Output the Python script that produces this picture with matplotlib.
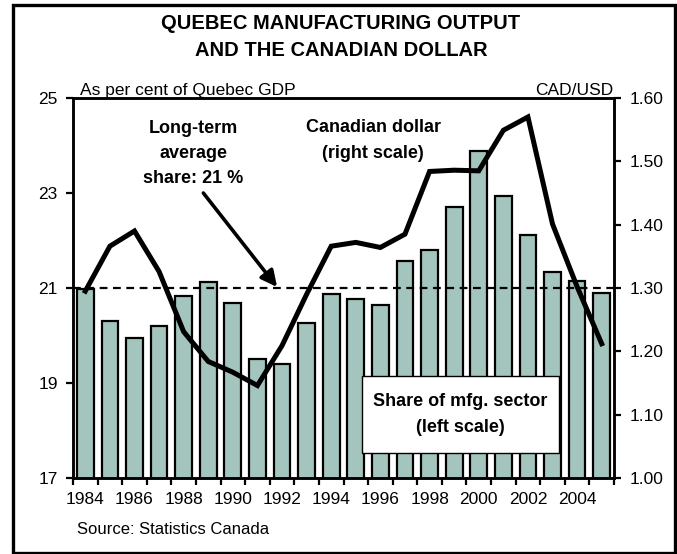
import matplotlib
matplotlib.use("Agg")
import matplotlib.pyplot as plt
from matplotlib.patches import Rectangle
from matplotlib.ticker import FixedLocator
import numpy as np

plt.rcParams['font.family'] = ['Liberation Sans', 'DejaVu Sans']

years = list(range(1984, 2006))
mfg_share = [20.97, 20.31, 19.94, 20.19, 20.84, 21.12, 20.69, 19.50, 19.39, 20.26, 20.87,
             20.76, 20.64, 21.57, 21.80, 22.70, 23.88, 22.94, 22.12, 21.34, 21.15, 20.90]
cad_usd = [1.295, 1.366, 1.390, 1.326, 1.231, 1.184, 1.167, 1.146, 1.209, 1.290, 1.366,
           1.372, 1.364, 1.385, 1.484, 1.486, 1.485, 1.549, 1.570, 1.401, 1.302, 1.212]
long_term_avg = 21.0
left_ticks = [17, 19, 21, 23, 25]
right_ticks = [1.00, 1.10, 1.20, 1.30, 1.40, 1.50, 1.60]
xtick_years = list(range(1984, 2005, 2))

W, H = 677, 554
fig = plt.figure(figsize=(W / 100, H / 100), dpi=100)

L, R, T, B = 73, 614, 98, 478
ax = fig.add_axes([L / W, 1 - B / H, (R - L) / W, (B - T) / H])
ax2 = ax.twinx()

x = np.arange(len(years))
ax.bar(x, mfg_share, width=0.68, color='#A3C5BD', edgecolor='black', linewidth=1.6, zorder=2)
ax.axhline(long_term_avg, color='black', linestyle=(0, (3.5, 2.5)), linewidth=1.6, zorder=3)

ax2.plot(x, cad_usd, color='black', linewidth=3.6, solid_joinstyle='miter', zorder=4)

ax.set_xlim(-0.5, len(years) - 0.5)
ax.set_ylim(17, 25)
ax2.set_ylim(1.00, 1.60)

ax.set_yticks(left_ticks)
ax.set_yticklabels([str(v) for v in left_ticks])
ax2.set_yticks(right_ticks)
ax2.set_yticklabels([f"{v:.2f}" for v in right_ticks])

ax.set_xticks([years.index(y) for y in xtick_years])
ax.set_xticklabels([str(y) for y in xtick_years])
ax.xaxis.set_minor_locator(FixedLocator(np.arange(-0.5, len(years), 1.0)))

ax.tick_params(axis='x', which='major', length=0, pad=10, labelsize=12.5)
ax.tick_params(axis='x', which='minor', length=5, width=1.6, direction='out')
ax.tick_params(axis='y', which='major', length=5, width=1.6, pad=6, labelsize=12.5)
ax2.tick_params(axis='y', which='major', length=5, width=1.6, pad=6, labelsize=12.5)

for a in (ax, ax2):
    for s in a.spines.values():
        s.set_linewidth(1.8)

# Axis unit labels
ax.text(0.013, 1.008, "As per cent of Quebec GDP", transform=ax.transAxes,
        ha='left', va='baseline', fontsize=12.5)
ax.text(0.998, 1.008, "CAD/USD", transform=ax.transAxes,
        ha='right', va='baseline', fontsize=12.5)

# Annotations
ax.text(0.222, 0.853, "Long-term\naverage\nshare: 21 %", transform=ax.transAxes,
        ha='center', va='center', fontsize=13, fontweight='bold', linespacing=1.62, zorder=6)
ax.text(0.555, 0.887, "Canadian dollar\n(right scale)", transform=ax.transAxes,
        ha='center', va='center', fontsize=13, fontweight='bold', linespacing=1.7, zorder=6)

ax.annotate("", xy=(7.8, 21.02), xytext=(4.8, 23.0), xycoords='data',
            arrowprops=dict(arrowstyle='-|>', color='black', lw=2.6, mutation_scale=24,
                            shrinkA=0, shrinkB=0), zorder=7)

box = Rectangle((0.534, 0.066), 0.364, 0.202, transform=ax.transAxes,
                facecolor='white', edgecolor='black', linewidth=1.0, zorder=5)
ax.add_patch(box)
ax.text(0.716, 0.167, "Share of mfg. sector\n(left scale)", transform=ax.transAxes,
        ha='center', va='center', fontsize=13, fontweight='bold', linespacing=1.7, zorder=6)

# Title
fig.text(341 / W, 1 - 37 / H, "QUEBEC MANUFACTURING OUTPUT\nAND THE CANADIAN DOLLAR",
         ha='center', va='center', fontsize=14.5, fontweight='bold', linespacing=1.55)

# Source
fig.text(77 / W, 1 - 529 / H, "Source: Statistics Canada", ha='left', va='center', fontsize=12)

# Outer frame
frame = Rectangle((13 / W, 1 - 553 / H), (675 - 13) / W, (553 - 5) / H,
                  transform=fig.transFigure, fill=False, edgecolor='black', linewidth=2.4)
fig.patches.append(frame)

fig.savefig("out.png", dpi=100)
